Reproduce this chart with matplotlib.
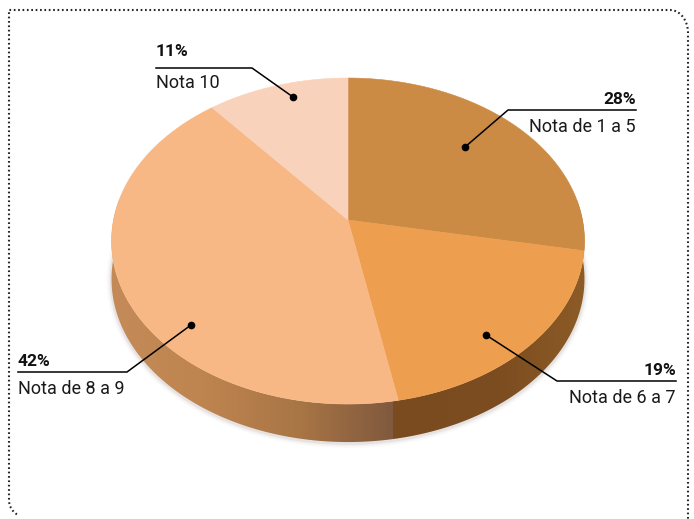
import numpy as np
import matplotlib.pyplot as plt
from matplotlib.patches import Polygon

# Dados do grafico
categorias = ['Nota de 1 a 5', 'Nota de 6 a 7', 'Nota de 8 a 9', 'Nota 10']
valores = [28, 19, 42, 11]
rotulos = ['28%', '19%', '42%', '11%']
cores = ['#cc8b45', '#ed9e4f', '#f7b886', '#f9d2bc']

# Geometria da pizza em pixels
cx, cy = 348, 220
A, B, c = 160.3, 234.5, 0.129
prof = 38


def rim(t):
    # perspectiva simples do circulo para a tela
    u, v = np.sin(t), np.cos(t)
    d = 1 + c * v
    return cx + B * u / d, cy - A * v / d


fig = plt.figure(figsize=(6.94, 5.19), dpi=100)
ax = fig.add_axes([0, 0, 1, 1])
ax.set_xlim(0, 694)
ax.set_ylim(519, 0)
ax.axis('off')

limites = np.cumsum([0] + valores) / 100 * 2 * np.pi

# Sombra suave da lateral
t_lado = np.linspace(np.pi * 0.45, np.pi * 1.55, 200)
xs, ys = rim(t_lado)
for w, al in [(7, 0.03), (4.5, 0.05), (2.5, 0.09)]:
    ax.plot(xs, ys + prof + 1, color='#6b5a4a', lw=w, alpha=al, zorder=1, solid_capstyle='round')

# Lateral com gradiente
x_lado, y_lado = rim(np.linspace(np.pi * 0.45, np.pi * 1.55, 300))
contorno = np.r_[np.c_[x_lado, y_lado], np.c_[x_lado[::-1], y_lado[::-1] + prof]]
gx = [111, 200, 300, 392, 393, 500, 584]
gc = ['#c48a58', '#bf8550', '#a87545', '#80593e', '#7a4b1e', '#7c4d20', '#8c5b26']
xx = np.arange(105, 590)
rgb = np.array([[int(h[i:i + 2], 16) for i in (1, 3, 5)] for h in gc]) / 255
img = np.stack([np.interp(xx, gx, rgb[:, k]) for k in range(3)], axis=-1)[None, :, :]
im = ax.imshow(img, extent=(105, 590, 460, 200), aspect='auto', zorder=2)
im.set_clip_path(Polygon(contorno, transform=ax.transData))
ax.set_xlim(0, 694)
ax.set_ylim(519, 0)

# Fatias do topo
for i in range(len(valores)):
    t = np.linspace(limites[i], limites[i + 1], 120)
    x, y = rim(t)
    ax.add_patch(Polygon(np.c_[np.r_[cx, x], np.r_[cy, y]], closed=True, fc=cores[i], ec=cores[i], lw=0.4, zorder=3))

# Rotulos com linha de chamada: ponto, cotovelo, fim da linha
pontos = [(465, 147), (486, 335), (191, 325), (293, 97)]
cotovelos = [(508, 110), (557, 381), (127, 372), (252, 68)]
fins = [(636, 110), (676, 381), (18, 372), (156, 68)]
alinhamento = ['right', 'right', 'left', 'left']
folga_pct = [3, 3, 3, 9]
folga_cat = [8, 8, 8, 6]

for i in range(len(valores)):
    px, py = pontos[i]
    ax.plot([px, cotovelos[i][0], fins[i][0]], [py, cotovelos[i][1], fins[i][1]], color='black', lw=1.1, zorder=5)
    ax.plot(px, py, 'o', color='black', ms=4.5, zorder=6)
    ax.text(fins[i][0], fins[i][1] - folga_pct[i], rotulos[i], ha=alinhamento[i], va='bottom', fontsize=12.5,
            fontweight='bold', family='Roboto', color='#111111', zorder=6)
    ax.text(fins[i][0], fins[i][1] + folga_cat[i], categorias[i], ha=alinhamento[i], va='top', fontsize=13,
            family='Roboto', color='#1a1a1a', zorder=6)

# Moldura pontilhada com cantos arredondados
a = np.linspace(-np.pi / 2, 0, 30)
a2 = np.linspace(np.pi * 0.68, np.pi, 10)
mx = np.r_[26 + 17 * np.cos(a2), 9, 670, 670 + 18 * np.cos(a), 688, 688]
my = np.r_[500 + 17 * np.sin(a2), 10, 10, 33 + 23 * np.sin(a), 33, 519]
ax.plot(mx, my, color='#222222', lw=1.5, ls=(0, (0.8, 1.3)), zorder=7)

fig.savefig('out.png', dpi=100)
